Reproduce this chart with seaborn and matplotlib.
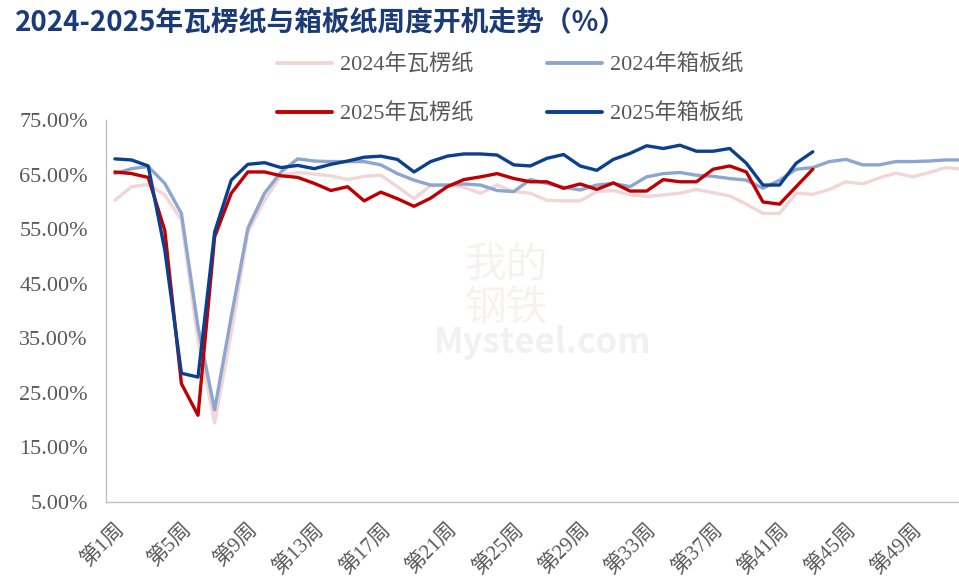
import numpy as np
import pandas as pd
import matplotlib
matplotlib.use('Agg')
import matplotlib.pyplot as plt
import seaborn as sns

# weekly operating rates (%)
wl_2024 = [60.3, 62.8, 63.2, 61.3, 56.7, 34.7, 19.5, 36.0, 54.5, 60.3,
           64.9, 65.4, 65.1, 64.8, 64.1, 64.7, 64.9, 62.8, 60.6, 63.0,
           63.1, 62.7, 61.6, 63.1, 61.9, 61.6, 60.3, 60.2, 60.2, 61.9,
           62.1, 61.3, 61.0, 61.3, 61.6, 62.3, 61.7, 61.1, 59.6, 57.9,
           57.9, 61.6, 61.4, 62.3, 63.7, 63.3, 64.4, 65.3, 64.6, 65.4,
           66.3, 66.0]
xb_2024 = [65.2, 66.1, 66.5, 63.4, 57.9, 37.1, 21.9, 39.0, 55.2, 61.6,
           65.5, 67.9, 67.5, 67.4, 67.4, 67.4, 66.8, 65.2, 64.0, 63.1,
           63.1, 63.3, 63.1, 62.1, 61.9, 64.1, 63.4, 62.7, 62.2, 63.1,
           63.4, 62.8, 64.6, 65.2, 65.4, 64.9, 64.7, 64.3, 64.0, 62.5,
           64.0, 66.0, 66.3, 67.4, 67.8, 66.8, 66.8, 67.4, 67.4, 67.5,
           67.7, 67.7]
wl_2025 = [65.5, 65.2, 64.5, 54.8, 26.7, 20.9, 53.6, 61.6, 65.5, 65.5,
           64.8, 64.5, 63.4, 62.1, 62.8, 60.2, 61.8, 60.6, 59.2, 60.7,
           62.8, 64.1, 64.6, 65.2, 64.3, 63.7, 63.7, 62.5, 63.3, 62.3,
           63.5, 62.0, 62.0, 64.1, 63.7, 63.7, 66.0, 66.6, 65.5, 60.0,
           59.6, 62.8, 66.0]
xb_2025 = [67.9, 67.7, 66.6, 51.2, 28.6, 27.9, 54.5, 64.0, 66.9, 67.2,
           66.3, 66.7, 66.1, 66.9, 67.5, 68.2, 68.4, 67.8, 65.5, 67.4,
           68.4, 68.8, 68.8, 68.6, 66.8, 66.6, 68.0, 68.7, 66.6, 65.8,
           67.8, 68.9, 70.3, 69.8, 70.4, 69.3, 69.3, 69.8, 67.1, 63.1,
           63.1, 67.1, 69.2]

series = ['2024年瓦楞纸', '2024年箱板纸', '2025年瓦楞纸', '2025年箱板纸']
colors = ['#f2d5d5', '#8da6cf', '#c00000', '#0b3f8f']
values = [wl_2024, xb_2024, wl_2025, xb_2025]

frames = []
for name, v in zip(series, values):
    frames.append(pd.DataFrame({'week': np.arange(len(v)), 'rate': v, 'series': name}))
df = pd.concat(frames, ignore_index=True)

sns.set_style('white')
plt.rcParams['font.family'] = ['Noto Sans CJK SC', 'DejaVu Sans']
serif_cjk = ['Liberation Serif', 'Noto Sans CJK SC', 'DejaVu Sans']

fig = plt.figure(figsize=(9.59, 5.86), dpi=100)
ax = fig.add_axes([0.1105, 0.1433, 0.8895, 0.6517])

# watermark behind the lines
fig.text(0.528, 0.51, '我的\n钢铁', fontsize=30, color='#ecd9d9', alpha=0.35,
         ha='center', va='center', linespacing=1.0, zorder=0)
fig.text(0.566, 0.415, 'Mysteel.com', fontsize=25, fontweight='bold', color='#eeeeee',
         alpha=0.8, ha='center', va='center', zorder=0)

sns.lineplot(data=df, x='week', y='rate', hue='series', hue_order=series,
             palette=dict(zip(series, colors)), linewidth=2.4, ax=ax, legend=False)
ax.patch.set_alpha(0)

ax.set_xlim(-0.54, 50.8)
ax.set_ylim(5, 75)
ax.set_yticks(np.arange(5, 76, 10))
ax.set_yticklabels(['{:.2f}%'.format(t) for t in np.arange(5, 76, 10)],
                   family=['Liberation Serif', 'DejaVu Serif'], fontsize=16, color='#595959')
week_ticks = np.arange(0, 49, 4)
ax.set_xticks(week_ticks)
ax.set_xticklabels(['第{}周'.format(w + 1) for w in week_ticks], rotation=45, ha='right',
                   rotation_mode='anchor', fontsize=15, color='#595959', family=serif_cjk)
ax.tick_params(axis='both', length=0)
ax.tick_params(axis='y', pad=13)
ax.tick_params(axis='x', pad=13)
ax.set_xlabel('')
ax.set_ylabel('')
for s in ['top', 'right']:
    ax.spines[s].set_visible(False)
for s in ['left', 'bottom']:
    ax.spines[s].set_color('#bfbfbf')
    ax.spines[s].set_linewidth(1)

# legend, filled row by row
handles = [plt.Line2D([], [], color=c, linewidth=2.8) for c in colors]
order = [0, 2, 1, 3]
fig.legend([handles[i] for i in order], [series[i] for i in order], ncol=2,
           loc='center', bbox_to_anchor=(0.532, 0.847), frameon=False,
           labelcolor='#595959', handlelength=2.5, handletextpad=0.35,
           columnspacing=3.3, labelspacing=1.25, prop={'family': serif_cjk, 'size': 16})

fig.text(0.016, 0.962, '2024-2025年瓦楞纸与箱板纸周度开机走势（%）', fontsize=20,
         fontweight='bold', color='#1b3a78', va='center', ha='left')

fig.savefig('out.png', dpi=100)
